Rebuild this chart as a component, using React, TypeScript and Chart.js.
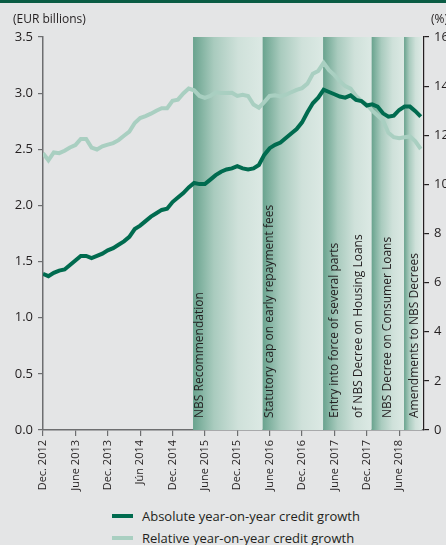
import React, { useEffect, useRef } from "react";
import { Chart, registerables } from "chart.js";

Chart.register(...registerables);

// Monthly values, Dec. 2012 – Oct. 2018
const absoluteGrowth = [
  1.39, 1.37, 1.4, 1.42, 1.43, 1.47, 1.51, 1.55, 1.55, 1.53, 1.55, 1.57,
  1.6, 1.62, 1.65, 1.68, 1.72, 1.79, 1.82, 1.86, 1.9, 1.93, 1.96, 1.97,
  2.03, 2.07, 2.11, 2.16, 2.2, 2.19, 2.19, 2.23, 2.27, 2.3, 2.32, 2.33,
  2.35, 2.33, 2.32, 2.33, 2.36, 2.45, 2.51, 2.54, 2.56, 2.6, 2.64, 2.68,
  2.74, 2.83, 2.91, 2.96, 3.03, 3.01, 2.99, 2.97, 2.96, 2.98, 2.94, 2.93,
  2.89, 2.9, 2.88, 2.82, 2.79, 2.8, 2.85, 2.88, 2.88, 2.84, 2.79,
];
const relativeGrowth = [
  11.27, 10.98, 11.3, 11.27, 11.37, 11.5, 11.6, 11.85, 11.85, 11.5, 11.42, 11.55,
  11.62, 11.68, 11.8, 11.98, 12.15, 12.5, 12.7, 12.78, 12.88, 13.0, 13.1, 13.1,
  13.4, 13.45, 13.7, 13.9, 13.83, 13.6, 13.52, 13.6, 13.75, 13.72, 13.72, 13.73,
  13.6, 13.65, 13.6, 13.25, 13.12, 13.35, 13.6, 13.63, 13.58, 13.65, 13.75, 13.85,
  13.92, 14.1, 14.5, 14.62, 14.95, 14.65, 14.45, 14.2, 14.0, 13.9, 13.6, 13.4,
  13.25, 13.0, 12.8, 12.6, 12.1, 11.92, 11.88, 11.92, 11.95, 11.75, 11.44,
];
const xTickLabels = [
  "Dec. 2012", "June 2013", "Dec. 2013", "Jún 2014", "Dec. 2014", "June 2015",
  "Dec. 2015", "June 2016", "Dec. 2016", "June 2017", "Dec. 2017", "June 2018",
];
const leftTicks = [0, 0.5, 1, 1.5, 2, 2.5, 3, 3.5];
const rightTicks = [0, 2, 4, 6, 8, 10, 12, 14, 16];
// Regulatory measure periods (in months from Dec. 2012)
const bandStarts = [27.8, 40.7, 51.9, 60.9, 66.9];
const bandEnd = 70.2;
const bandLabels = [
  ["NBS Recommendation"],
  ["Statutory cap on early repayment fees"],
  ["Entry into force of several parts", "of NBS Decree on Housing Loans"],
  ["NBS Decree on Consumer Loans"],
  ["Amendments to NBS Decrees"],
];
const seriesNames = ["Absolute year-on-year credit growth", "Relative year-on-year credit growth"];

const FONT = "'Open Sans', sans-serif";
const TEXT = "#231f20";
const DARK = "#006b4f";
const LIGHT = "#a9cfc1";
const AXIS = "#6d6e70";
const labelOffsets = [[7], [7], [11, 35.5], [15.5], [11]];

const bandsPlugin = {
  id: "bands",
  beforeDatasetsDraw(chart: any) {
    const { ctx, chartArea, scales } = chart;
    const xs = scales.x;
    ctx.save();
    bandStarts.forEach((s, i) => {
      const e = i < bandStarts.length - 1 ? bandStarts[i + 1] : bandEnd;
      const x0 = xs.getPixelForValue(s);
      const x1 = xs.getPixelForValue(e);
      const g = ctx.createLinearGradient(x0, 0, x1, 0);
      g.addColorStop(0, "#69a38e");
      g.addColorStop(0.3, "#a9cbbe");
      g.addColorStop(0.65, "#cfe1da");
      g.addColorStop(1, "#dce9e4");
      ctx.fillStyle = g;
      ctx.fillRect(x0, chartArea.top, x1 - x0, chartArea.bottom - chartArea.top);
    });
    ctx.fillStyle = TEXT;
    ctx.font = `12px ${FONT}`;
    ctx.textAlign = "left";
    ctx.textBaseline = "middle";
    bandStarts.forEach((s, i) => {
      const x0 = xs.getPixelForValue(s);
      bandLabels[i].forEach((line, j) => {
        ctx.save();
        ctx.translate(x0 + labelOffsets[i][j], chartArea.bottom - 12);
        ctx.rotate(-Math.PI / 2);
        ctx.fillText(line, 0, 0);
        ctx.restore();
      });
    });
    ctx.restore();
  },
  afterDraw(chart: any) {
    const { ctx } = chart;
    ctx.save();
    ctx.fillStyle = TEXT;
    ctx.font = `12px ${FONT}`;
    ctx.textBaseline = "middle";
    ctx.textAlign = "left";
    ctx.fillText("(EUR billions)", 13, 20);
    ctx.fillText("(%)", 431, 20);
    ctx.restore();
  },
};

export default function App() {
  const ref = useRef<HTMLCanvasElement | null>(null);
  useEffect(() => {
    if (!ref.current) return;
    const chart = new Chart(ref.current, {
      type: "line",
      data: {
        datasets: [
          {
            label: seriesNames[0],
            data: absoluteGrowth.map((v, i) => ({ x: i, y: v })),
            borderColor: DARK,
            backgroundColor: DARK,
            borderWidth: 4,
            pointRadius: 0,
            tension: 0,
            yAxisID: "y",
          },
          {
            label: seriesNames[1],
            data: relativeGrowth.map((v, i) => ({ x: i, y: v })),
            borderColor: LIGHT,
            backgroundColor: LIGHT,
            borderWidth: 4,
            pointRadius: 0,
            tension: 0,
            yAxisID: "y2",
          },
        ],
      },
      options: {
        animation: false,
        responsive: false,
        devicePixelRatio: 1,
        layout: { padding: { top: 37, left: 0, right: 0, bottom: 0 } },
        plugins: { legend: { display: false }, tooltip: { enabled: false } },
        scales: {
          x: {
            type: "linear",
            min: 0,
            max: 70.6,
            afterBuildTicks: (s: any) => {
              s.ticks = xTickLabels.map((_, i) => ({ value: i * 6 }));
            },
            afterFit: (s: any) => {
              s.height = 70;
            },
            grid: { display: true, drawOnChartArea: false, drawTicks: true, tickLength: 6, color: AXIS, lineWidth: 1.2 },
            border: { display: true, color: AXIS, width: 1.5 },
            ticks: {
              autoSkip: false,
              minRotation: 90,
              maxRotation: 90,
              padding: 4,
              color: TEXT,
              font: { family: FONT, size: 11 },
              callback: (_v: any, i: number) => xTickLabels[i],
            },
          },
          y: {
            position: "left",
            min: 0,
            max: 3.5,
            afterBuildTicks: (s: any) => {
              s.ticks = leftTicks.map((v) => ({ value: v }));
            },
            afterFit: (s: any) => {
              s.width = 43;
            },
            grid: { display: true, drawOnChartArea: false, drawTicks: true, tickLength: 5, color: AXIS, lineWidth: 1.2 },
            border: { display: true, color: AXIS, width: 1.5 },
            ticks: {
              padding: 5,
              color: TEXT,
              font: { family: FONT, size: 13 },
              callback: (v: any) => Number(v).toFixed(1),
            },
          },
          y2: {
            position: "right",
            min: 0,
            max: 16,
            afterBuildTicks: (s: any) => {
              s.ticks = rightTicks.map((v) => ({ value: v }));
            },
            afterFit: (s: any) => {
              s.width = 32;
            },
            grid: { display: true, drawOnChartArea: false, drawTicks: true, tickLength: 5, color: "#231f20", lineWidth: 1.2 },
            border: { display: true, color: "#231f20", width: 1.2 },
            ticks: {
              padding: 5,
              color: TEXT,
              font: { family: FONT, size: 13 },
              callback: (v: any) => String(v),
            },
          },
        },
      },
      plugins: [bandsPlugin],
    } as any);
    return () => chart.destroy();
  }, []);

  return (
    <div
      style={{
        position: "fixed",
        left: 0,
        top: 0,
        width: 446,
        height: 545,
        overflow: "hidden",
        background: "#e4e5e6",
        fontFamily: FONT,
      }}
    >
      <div style={{ position: "absolute", left: 0, top: 0, width: 446, height: 3, background: "#0a5c44" }} />
      <canvas ref={ref} width={456} height={500} style={{ position: "absolute", left: 0, top: 0 }} />
      {seriesNames.map((name, i) => (
        <div
          key={name}
          style={{
            position: "absolute",
            left: 112,
            top: 506 + i * 22,
            height: 20,
            display: "flex",
            alignItems: "center",
            fontSize: 13,
            color: TEXT,
            whiteSpace: "nowrap",
          }}
        >
          <span style={{ display: "inline-block", width: 21, height: 4, background: i === 0 ? DARK : LIGHT, marginRight: 9 }} />
          {name}
        </div>
      ))}
    </div>
  );
}
